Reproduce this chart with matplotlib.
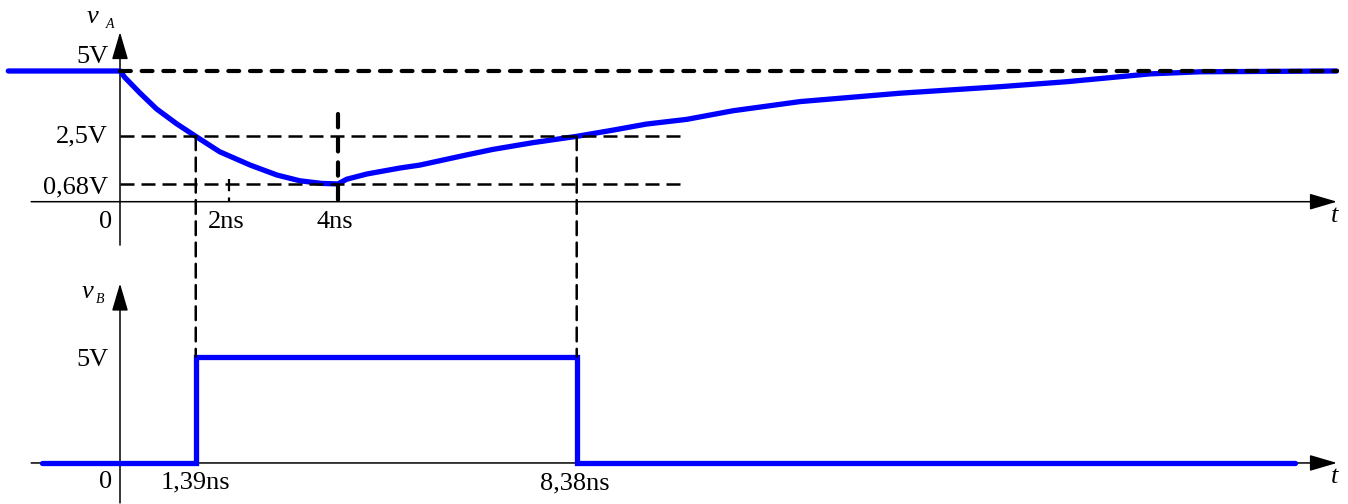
import numpy as np
import matplotlib
matplotlib.use('Agg')
import matplotlib.pyplot as plt
from matplotlib.patches import ConnectionPatch

plt.rcParams['font.family'] = ['Liberation Serif', 'DejaVu Serif']

# =============================================
# Data (t in ns, v in V)
# =============================================

# vA
t_a = [-2.05, 0.0, 0.09, 0.37, 0.67, 1.04, 1.39, 1.83, 2.39, 2.88, 3.30, 3.70, 4.0,
       4.16, 4.53, 5.14, 5.50, 6.36, 6.84, 7.58, 8.38, 9.05, 9.66, 10.40, 11.25,
       12.48, 14.31, 16.15, 17.37, 18.90, 19.82, 22.32]
v_a = [5.0, 5.0, 4.75, 4.15, 3.55, 2.98, 2.5, 1.91, 1.40, 1.02, 0.80, 0.70, 0.68,
       0.86, 1.06, 1.29, 1.40, 1.79, 2.00, 2.26, 2.5, 2.74, 2.97, 3.15, 3.48,
       3.83, 4.15, 4.40, 4.59, 4.89, 4.97, 5.0]

# vB: square pulse
t_b = [-1.44, 1.39, 1.39, 8.38, 8.38, 21.56]
v_b = [0, 0, 5, 5, 0, 0]

v_high = 5.0
v_half = 2.5
v_min = 0.68
t_min = 4.0
t_rise = 1.39
t_fall = 8.38

# =============================================
# Figure & axes
# =============================================

W, H = 1348, 504
fig = plt.figure(figsize=(W / 100, H / 100), dpi=100)

px_ns = 54.5
x_lim = (-120 / px_ns, (W - 120) / px_ns)

split = 250 / H
ax1 = fig.add_axes([0, 1 - split, 1, split])
ax2 = fig.add_axes([0, 0, 1, split])
ax1.set_xlim(*x_lim)
ax1.set_ylim((201.7 - 250) / 26.14, 201.7 / 26.14)
ax2.set_xlim(*x_lim)
ax2.set_ylim((462.3 - 504) / 21.6, (462.3 - 250) / 21.6)
for ax in (ax1, ax2):
    ax.axis('off')

blue = '#0000ff'
fs = 19


def arrow(ax, x0, y0, x1, y1):
    ax.annotate('', xy=(x1, y1), xytext=(x0, y0),
                arrowprops=dict(arrowstyle='-|>,head_length=0.85,head_width=0.25',
                                mutation_scale=20, lw=1.1, color='black',
                                shrinkA=0, shrinkB=0))


# axes with arrows
for ax, ybot, ytop in ((ax1, -1.66, 6.49), (ax2, -1.88, 8.44)):
    arrow(ax, -1.63, 0, 22.33, 0)
    arrow(ax, 0, ybot, 0, ytop)

# =============================================
# vA
# =============================================

ax1.plot(t_a, v_a, color=blue, lw=3.8, solid_capstyle='round', zorder=3)

ax1.plot([0, 22.33], [v_high, v_high], color='black', lw=3,
         linestyle=(0, (2.6, 2.6)), dash_capstyle='round', zorder=4)
for lvl in (v_half, v_min):
    ax1.plot([0, 10.37], [lvl, lvl], color='black', lw=1.8,
             linestyle=(0, (5.6, 2.8)), zorder=4)

ax1.plot([t_min, t_min], [3.35, -0.05], color='black', lw=3,
         linestyle=(0, (3.2, 2.6)), dash_capstyle='round', zorder=4)
ax1.plot([2.0, 2.0], [0.87, -0.02], color='black', lw=1.6,
         linestyle=(0, (5.5, 2.8)), zorder=4)

ax1.text(-0.22, 5.31, '5V', fontsize=fs, ha='right', va='baseline')
ax1.text(-0.22, 2.25, '2,5V', fontsize=fs, ha='right', va='baseline')
ax1.text(-0.22, 0.32, '0,68V', fontsize=fs, ha='right', va='baseline')
ax1.text(-0.15, -1.02, '0', fontsize=fs, ha='right', va='baseline')
ax1.text(1.62, -1.02, '2ns', fontsize=fs, ha='left', va='baseline')
ax1.text(3.95, -1.02, '4ns', fontsize=fs, ha='center', va='baseline')
ax1.text(22.29, -0.77, 't', fontsize=fs, style='italic', ha='center', va='baseline')
ax1.text(-0.61, 6.84, 'v', fontsize=fs, style='italic', ha='left', va='baseline')
ax1.text(-0.27, 6.64, 'A', fontsize=10, style='italic', ha='left', va='baseline')

# =============================================
# vB
# =============================================

ax2.plot(t_b, v_b, color=blue, lw=3.8, solid_capstyle='round',
         solid_joinstyle='miter', zorder=3)

# dashed lines linking both plots
for tt in (t_rise, t_fall):
    con = ConnectionPatch(xyA=(tt, v_half), coordsA=ax1.transData,
                          xyB=(tt, v_high), coordsB=ax2.transData,
                          color='black', lw=1.8, linestyle=(0, (5.5, 3.0)),
                          zorder=2)
    fig.add_artist(con)

ax2.text(-0.22, 4.58, '5V', fontsize=fs, ha='right', va='baseline')
ax2.text(-0.15, -1.20, '0', fontsize=fs, ha='right', va='baseline')
ax2.text(1.385, -1.20, '1,39ns', fontsize=fs, ha='center', va='baseline')
ax2.text(8.35, -1.23, '8,38ns', fontsize=fs, ha='center', va='baseline')
ax2.text(22.29, -0.96, 't', fontsize=fs, style='italic', ha='center', va='baseline')
ax2.text(-0.70, 7.75, 'v', fontsize=fs, style='italic', ha='left', va='baseline')
ax2.text(-0.44, 7.51, 'B', fontsize=10, style='italic', ha='left', va='baseline')

fig.savefig('out.png', dpi=100)
